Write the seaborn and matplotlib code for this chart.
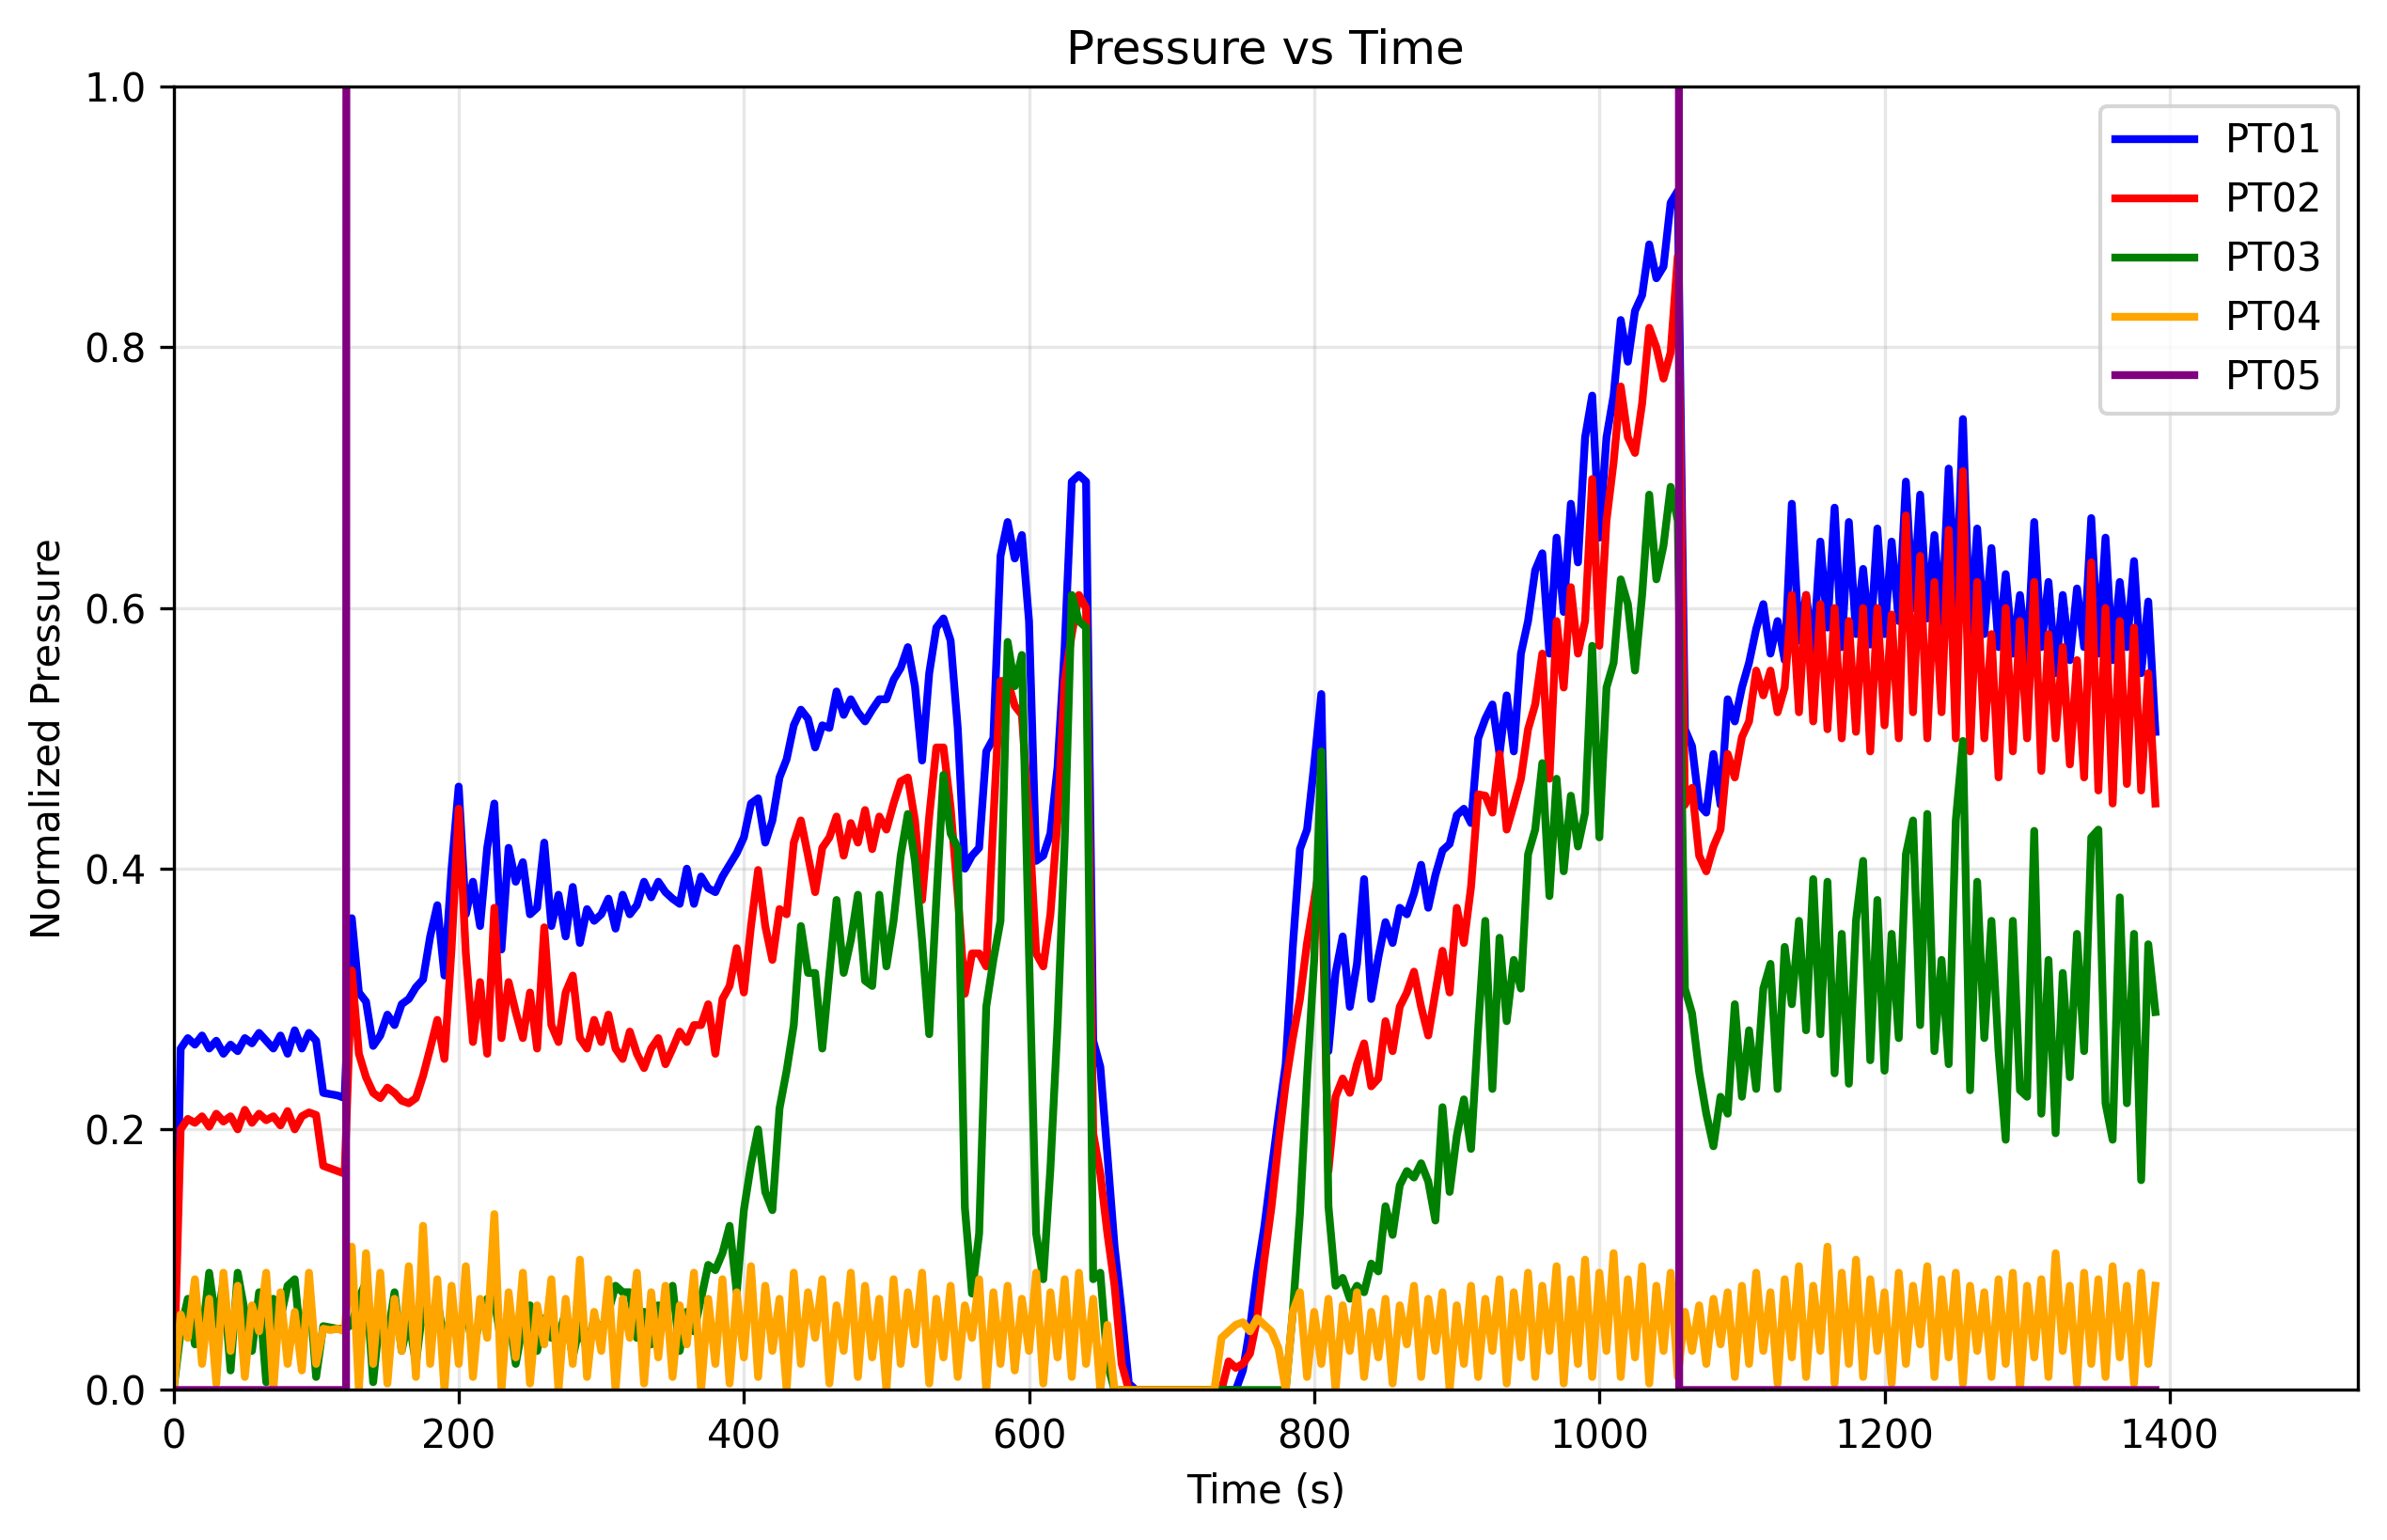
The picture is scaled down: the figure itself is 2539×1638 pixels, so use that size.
import numpy as np
import seaborn as sns
import matplotlib.pyplot as plt

# sampling grid, one value every 5 s
time_s = np.arange(0, 1395, 5)

pt01 = [
    0.0, 0.262, 0.27, 0.265, 0.272, 0.262, 0.268, 0.258, 0.265, 0.26, 0.27, 0.266, 0.274, 0.268, 0.262, 0.272, 0.258, 0.276, 0.262, 0.274,
    0.268, 0.228, 0.227, 0.226, 0.224, 0.362, 0.305, 0.298, 0.264, 0.272, 0.288, 0.28, 0.296, 0.3, 0.309, 0.315, 0.348, 0.372, 0.318, 0.4,
    0.463, 0.365, 0.39, 0.356, 0.416, 0.45, 0.338, 0.416, 0.39, 0.405, 0.365, 0.37, 0.42, 0.356, 0.38, 0.348, 0.386, 0.343, 0.369, 0.36,
    0.365, 0.377, 0.354, 0.38, 0.365, 0.372, 0.39, 0.378, 0.39, 0.382, 0.377, 0.373, 0.4, 0.373, 0.394, 0.385, 0.382, 0.394, 0.403, 0.412,
    0.424, 0.45, 0.454, 0.42, 0.437, 0.47, 0.484, 0.51, 0.522, 0.515, 0.493, 0.51, 0.508, 0.536, 0.518, 0.53, 0.52, 0.513, 0.522, 0.53,
    0.53, 0.545, 0.554, 0.57, 0.54, 0.483, 0.55, 0.585, 0.592, 0.575, 0.508, 0.4, 0.41, 0.416, 0.49, 0.5, 0.64, 0.666, 0.638, 0.656,
    0.59, 0.406, 0.41, 0.427, 0.478, 0.57, 0.697, 0.702, 0.697, 0.268, 0.248, 0.18, 0.11, 0.06, 0.005, 0.0, 0.0, 0.0, 0.0, 0.0,
    0.0, 0.0, 0.0, 0.0, 0.0, 0.0, 0.0, 0.0, 0.0, 0.0, 0.015, 0.048, 0.09, 0.125, 0.168, 0.21, 0.25, 0.34, 0.415, 0.43,
    0.48, 0.534, 0.26, 0.32, 0.348, 0.294, 0.327, 0.392, 0.3, 0.332, 0.359, 0.343, 0.37, 0.365, 0.381, 0.403, 0.37, 0.395, 0.414, 0.419,
    0.441, 0.446, 0.435, 0.5, 0.515, 0.526, 0.488, 0.533, 0.49, 0.565, 0.59, 0.629, 0.642, 0.565, 0.654, 0.597, 0.68, 0.635, 0.731, 0.763,
    0.654, 0.731, 0.763, 0.821, 0.789, 0.828, 0.84, 0.879, 0.853, 0.862, 0.911, 0.92, 0.507, 0.494, 0.449, 0.443, 0.488, 0.449, 0.53, 0.513,
    0.539, 0.558, 0.584, 0.603, 0.565, 0.59, 0.56, 0.68, 0.575, 0.61, 0.566, 0.651, 0.585, 0.677, 0.57, 0.666, 0.58, 0.63, 0.572, 0.661,
    0.58, 0.651, 0.59, 0.697, 0.6, 0.687, 0.592, 0.656, 0.585, 0.707, 0.6, 0.745, 0.575, 0.661, 0.58, 0.646, 0.57, 0.626, 0.565, 0.61,
    0.56, 0.666, 0.57, 0.62, 0.55, 0.61, 0.56, 0.615, 0.57, 0.669, 0.565, 0.654, 0.56, 0.62, 0.57, 0.636, 0.55, 0.605, 0.505,
]

pt02 = [
    0.0, 0.2, 0.208, 0.205, 0.21, 0.202, 0.212, 0.206, 0.21, 0.2, 0.215, 0.205, 0.212, 0.207, 0.21, 0.203, 0.214, 0.2, 0.21, 0.213,
    0.211, 0.172, 0.17, 0.168, 0.166, 0.322, 0.258, 0.24, 0.228, 0.224, 0.232, 0.228, 0.222, 0.22, 0.224, 0.241, 0.262, 0.284, 0.254, 0.339,
    0.446, 0.335, 0.267, 0.313, 0.258, 0.37, 0.27, 0.313, 0.29, 0.27, 0.305, 0.262, 0.355, 0.28, 0.267, 0.305, 0.318, 0.27, 0.262, 0.284,
    0.267, 0.288, 0.262, 0.254, 0.275, 0.258, 0.247, 0.262, 0.27, 0.25, 0.262, 0.275, 0.267, 0.28, 0.28, 0.296, 0.258, 0.3, 0.31, 0.339,
    0.305, 0.356, 0.399, 0.356, 0.33, 0.369, 0.365, 0.42, 0.437, 0.41, 0.382, 0.416, 0.424, 0.44, 0.41, 0.435, 0.42, 0.445, 0.415, 0.44,
    0.43, 0.45, 0.467, 0.47, 0.437, 0.376, 0.44, 0.493, 0.493, 0.447, 0.38, 0.304, 0.335, 0.335, 0.325, 0.437, 0.544, 0.544, 0.525, 0.518,
    0.437, 0.335, 0.325, 0.365, 0.437, 0.544, 0.58, 0.61, 0.6, 0.197, 0.166, 0.12, 0.08, 0.02, 0.0, 0.0, 0.0, 0.0, 0.0, 0.0,
    0.0, 0.0, 0.0, 0.0, 0.0, 0.0, 0.0, 0.0, 0.022, 0.017, 0.02, 0.028, 0.055, 0.1, 0.14, 0.19, 0.235, 0.27, 0.3, 0.343,
    0.376, 0.41, 0.168, 0.225, 0.239, 0.228, 0.25, 0.266, 0.233, 0.239, 0.283, 0.26, 0.294, 0.305, 0.321, 0.294, 0.272, 0.305, 0.337, 0.305,
    0.37, 0.343, 0.386, 0.457, 0.456, 0.443, 0.488, 0.43, 0.449, 0.469, 0.507, 0.526, 0.565, 0.469, 0.59, 0.539, 0.616, 0.565, 0.59, 0.699,
    0.571, 0.667, 0.712, 0.77, 0.731, 0.719, 0.757, 0.815, 0.8, 0.776, 0.796, 0.87, 0.449, 0.462, 0.41, 0.398, 0.417, 0.43, 0.488, 0.47,
    0.501, 0.513, 0.552, 0.533, 0.552, 0.52, 0.539, 0.61, 0.52, 0.61, 0.513, 0.603, 0.507, 0.6, 0.5, 0.59, 0.505, 0.6, 0.49, 0.6,
    0.51, 0.595, 0.5, 0.671, 0.52, 0.64, 0.5, 0.62, 0.52, 0.66, 0.5, 0.705, 0.49, 0.62, 0.5, 0.58, 0.47, 0.6, 0.49, 0.59,
    0.5, 0.62, 0.475, 0.58, 0.5, 0.57, 0.48, 0.56, 0.47, 0.635, 0.46, 0.6, 0.45, 0.59, 0.465, 0.585, 0.46, 0.55, 0.45,
]

pt03 = [
    0.0, 0.045, 0.07, 0.035, 0.04, 0.09, 0.05, 0.083, 0.015, 0.09, 0.06, 0.03, 0.075, 0.006, 0.07, 0.055, 0.08, 0.085, 0.03, 0.08,
    0.01, 0.049, 0.048, 0.047, 0.047, 0.05, 0.07, 0.083, 0.006, 0.06, 0.04, 0.075, 0.03, 0.055, 0.02, 0.065, 0.045, 0.07, 0.035, 0.06,
    0.04, 0.065, 0.03, 0.055, 0.07, 0.07, 0.035, 0.06, 0.02, 0.05, 0.065, 0.03, 0.055, 0.04, 0.04, 0.06, 0.025, 0.05, 0.03, 0.055,
    0.045, 0.06, 0.08, 0.075, 0.075, 0.04, 0.06, 0.035, 0.065, 0.055, 0.08, 0.03, 0.06, 0.045, 0.07, 0.096, 0.092, 0.105, 0.126, 0.075,
    0.138, 0.173, 0.2, 0.152, 0.138, 0.216, 0.245, 0.28, 0.356, 0.32, 0.32, 0.262, 0.32, 0.376, 0.32, 0.345, 0.38, 0.314, 0.31, 0.38,
    0.325, 0.36, 0.41, 0.442, 0.406, 0.345, 0.273, 0.376, 0.472, 0.427, 0.416, 0.14, 0.074, 0.12, 0.294, 0.33, 0.36, 0.574, 0.54, 0.564,
    0.335, 0.12, 0.085, 0.17, 0.28, 0.42, 0.61, 0.59, 0.585, 0.085, 0.09, 0.02, 0.0, 0.0, 0.0, 0.0, 0.0, 0.0, 0.0, 0.0,
    0.0, 0.0, 0.0, 0.0, 0.0, 0.0, 0.0, 0.0, 0.0, 0.0, 0.0, 0.0, 0.0, 0.0, 0.0, 0.0, 0.0, 0.06, 0.135, 0.24,
    0.33, 0.49, 0.141, 0.08, 0.086, 0.07, 0.08, 0.075, 0.097, 0.091, 0.141, 0.119, 0.157, 0.168, 0.163, 0.174, 0.16, 0.13, 0.217, 0.152,
    0.195, 0.223, 0.185, 0.277, 0.36, 0.231, 0.347, 0.283, 0.33, 0.308, 0.411, 0.43, 0.481, 0.379, 0.469, 0.398, 0.456, 0.417, 0.443, 0.571,
    0.424, 0.539, 0.558, 0.622, 0.603, 0.552, 0.61, 0.687, 0.622, 0.648, 0.693, 0.667, 0.308, 0.289, 0.244, 0.212, 0.187, 0.225, 0.212, 0.296,
    0.225, 0.276, 0.231, 0.308, 0.327, 0.231, 0.34, 0.296, 0.36, 0.276, 0.392, 0.273, 0.39, 0.243, 0.35, 0.235, 0.36, 0.406, 0.253, 0.376,
    0.245, 0.35, 0.27, 0.411, 0.437, 0.28, 0.442, 0.26, 0.33, 0.25, 0.437, 0.498, 0.23, 0.39, 0.27, 0.36, 0.26, 0.192, 0.36, 0.23,
    0.225, 0.429, 0.212, 0.33, 0.197, 0.32, 0.24, 0.35, 0.26, 0.424, 0.43, 0.22, 0.192, 0.378, 0.22, 0.35, 0.161, 0.342, 0.29,
]

pt04 = [
    0.0, 0.058, 0.04, 0.085, 0.02, 0.07, 0.005, 0.09, 0.03, 0.08, 0.01, 0.065, 0.045, 0.09, 0.0, 0.075, 0.02, 0.06, 0.015, 0.09,
    0.02, 0.047, 0.046, 0.047, 0.045, 0.11, 0.0, 0.105, 0.02, 0.09, 0.005, 0.07, 0.03, 0.095, 0.01, 0.126, 0.02, 0.085, 0.0, 0.08,
    0.02, 0.095, 0.01, 0.07, 0.04, 0.135, 0.0, 0.075, 0.025, 0.09, 0.005, 0.065, 0.035, 0.085, 0.0, 0.07, 0.02, 0.1, 0.01, 0.06,
    0.03, 0.085, 0.0, 0.07, 0.04, 0.09, 0.005, 0.075, 0.025, 0.08, 0.01, 0.065, 0.035, 0.09, 0.0, 0.07, 0.02, 0.085, 0.005, 0.075,
    0.025, 0.095, 0.01, 0.08, 0.03, 0.07, 0.0, 0.09, 0.02, 0.075, 0.04, 0.085, 0.005, 0.065, 0.03, 0.09, 0.01, 0.08, 0.025, 0.07,
    0.0, 0.085, 0.02, 0.075, 0.035, 0.09, 0.005, 0.07, 0.025, 0.08, 0.01, 0.065, 0.04, 0.085, 0.0, 0.075, 0.02, 0.08, 0.015, 0.07,
    0.03, 0.09, 0.005, 0.075, 0.025, 0.085, 0.01, 0.09, 0.02, 0.07, 0.0, 0.05, 0.0, 0.0, 0.0, 0.0, 0.0, 0.0, 0.0, 0.0,
    0.0, 0.0, 0.0, 0.0, 0.0, 0.0, 0.0, 0.04, 0.045, 0.05, 0.052, 0.045, 0.055, 0.05, 0.045, 0.032, 0.0, 0.06, 0.075, 0.01,
    0.06, 0.02, 0.07, 0.0, 0.065, 0.03, 0.075, 0.01, 0.06, 0.025, 0.07, 0.005, 0.065, 0.035, 0.08, 0.01, 0.07, 0.03, 0.075, 0.0,
    0.065, 0.02, 0.08, 0.01, 0.07, 0.03, 0.085, 0.005, 0.075, 0.025, 0.09, 0.01, 0.08, 0.03, 0.095, 0.005, 0.085, 0.02, 0.1, 0.01,
    0.09, 0.03, 0.105, 0.01, 0.085, 0.025, 0.095, 0.005, 0.08, 0.03, 0.09, 0.01, 0.06, 0.03, 0.065, 0.02, 0.07, 0.035, 0.075, 0.01,
    0.08, 0.02, 0.09, 0.03, 0.075, 0.005, 0.085, 0.025, 0.095, 0.01, 0.08, 0.03, 0.11, 0.005, 0.09, 0.02, 0.1, 0.01, 0.085, 0.03,
    0.075, 0.005, 0.09, 0.02, 0.08, 0.035, 0.095, 0.01, 0.085, 0.025, 0.09, 0.005, 0.08, 0.03, 0.075, 0.01, 0.085, 0.02, 0.09, 0.0,
    0.08, 0.025, 0.085, 0.01, 0.105, 0.03, 0.08, 0.005, 0.09, 0.02, 0.085, 0.01, 0.095, 0.025, 0.08, 0.005, 0.09, 0.02, 0.08,
]

# PT05 sits at zero, jumps off scale at ~122 s and comes back at ~1055 s
pt05_time = [0, 121, 122, 1055, 1056, 1390]
pt05 = [0.0, 0.0, 5.0, 5.0, 0.0, 0.0]

series = [
    ("PT01", time_s, pt01, "blue"),
    ("PT02", time_s, pt02, "red"),
    ("PT03", time_s, pt03, "green"),
    ("PT04", time_s, pt04, "orange"),
    ("PT05", pt05_time, pt05, "purple"),
]

fig, ax = plt.subplots(figsize=(2539 / 300, 1638 / 300), dpi=300)

for name, t, vals, col in series:
    sns.lineplot(x=t, y=vals, color=col, linewidth=2, label=name, ax=ax)

ax.set_xlim(0, 1532)
ax.set_ylim(0, 1)
ax.set_title("Pressure vs Time")
ax.set_xlabel("Time (s)")
ax.set_ylabel("Normalized Pressure")
ax.grid(True, alpha=0.3)
ax.legend(loc="upper right")

fig.subplots_adjust(left=0.0727, right=0.9878, bottom=0.0974, top=0.9437)
fig.savefig("out.png", dpi=300)
